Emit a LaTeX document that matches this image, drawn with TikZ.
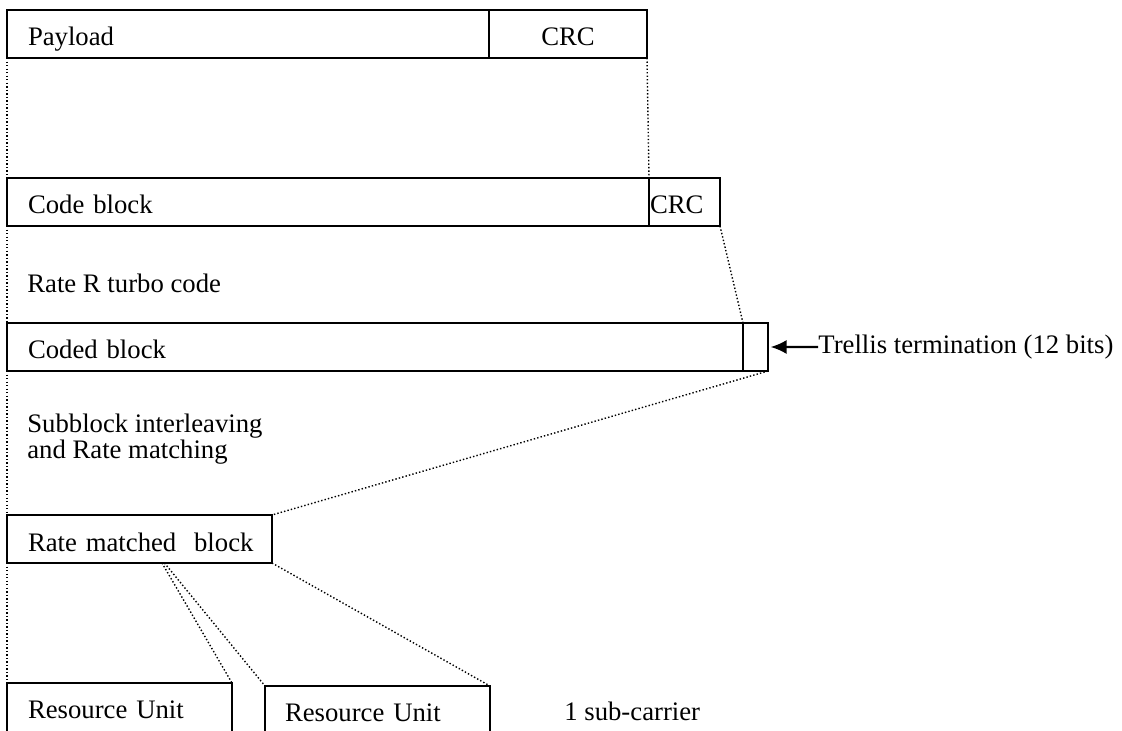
\documentclass[tikz,border=0pt]{standalone}
\usepackage{fontspec}
\setmainfont{Liberation Serif}
\usetikzlibrary{positioning, arrows.meta}

\tikzset{
    blk/.style={draw, line width=1.1pt, anchor=north west, minimum height=0.96cm,
        outer sep=0pt, inner ysep=0pt, inner xsep=0.42cm, align=left,
        text height=0.56cm, text depth=0.08cm},
    unit/.style={blk, minimum height=1.2cm, text height=0.36cm, text depth=0.16cm},
    cell/.style={draw, line width=1.1pt, minimum height=0.96cm, outer sep=0pt,
        inner sep=0pt, text height=0.56cm, text depth=0.08cm},
    link/.style={line width=0.8pt, dash pattern=on 0.8pt off 1.2pt},
    lbl/.style={inner sep=0pt, align=left},
}

\begin{document}
\begin{tikzpicture}[font=\fontsize{15.2}{14.8}\selectfont]
        \useasboundingbox (0, 0) rectangle (22.44, -14.62);
        \clip (0, 0) rectangle (22.44, -14.62);

        % blocks
        \node[blk, text width=8.8cm] (payload) at (0.14, -0.2) {Payload};
        \node[cell, minimum width=3.16cm, right=0pt of payload] (paycrc) {CRC};

        \node[blk, text width=12cm] (code) at (0.14, -3.56) {Code block};
        \node[cell, minimum width=1.42cm, text width=1.38cm, inner xsep=0.02cm,
            right=0pt of code] (codecrc) {CRC};

        \node[blk, text width=13.88cm] (coded) at (0.14, -6.46) {Coded block};
        \node[cell, minimum width=0.5cm, right=0pt of coded] (tail) {};

        \node[blk, text width=4.46cm] (rm) at (0.14, -10.3)
            {\mbox{Rate matched\ \ block}};

        \node[unit, text width=3.66cm] (ru1) at (0.14, -13.66) {Resource Unit};
        \node[unit, text width=3.7cm, inner xsep=0.4cm] (ru2) at (5.3, -13.72)
            {Resource Unit};

        % texts
        \node[lbl, anchor=base west] (turbo) at (0.54, -5.86) {Rate R turbo code};
        \node[lbl, anchor=west] (subblock) at (0.54, -8.78)
            {Subblock interleaving\\and Rate matching};
        \node[lbl, anchor=west] (trellis) at (16.36, -6.94)
            {Trellis termination (12 bits)};
        \node[lbl, anchor=base west] (subcarrier) at (11.28, -14.4) {1 sub-carrier};

        % dotted links
        \draw[link] (payload.south west) -- (code.north west);
        \draw[link] (paycrc.south east) -- (codecrc.north west);
        \draw[link] (code.south west) -- (coded.north west);
        \draw[link] (codecrc.south east) -- (tail.north west);
        \draw[link] (coded.south west) -- (rm.north west);
        \draw[link] (tail.south east) -- (rm.north east);
        \draw[link] (rm.south west) -- (ru1.north west);
        \draw[link] ([xshift=0.45cm]rm.south) -- (ru1.north east);
        \draw[link] ([xshift=0.5cm]rm.south) -- (ru2.north west);
        \draw[link] (rm.south east) -- (ru2.north east);

        \draw[-{Latex[length=0.32cm, width=0.28cm]}, line width=1.4pt,
            shorten >=0.05cm] (trellis.west) -- (tail.east);

    \end{tikzpicture}
\end{document}
